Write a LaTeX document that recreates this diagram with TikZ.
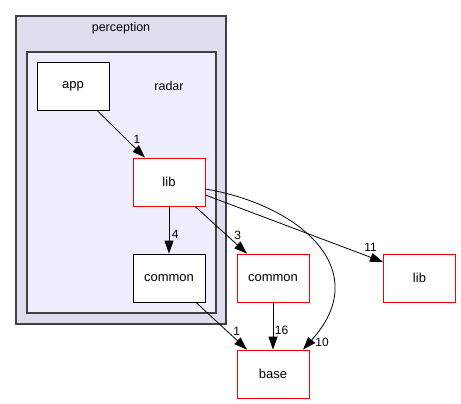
\documentclass[tikz,border=0pt]{standalone}
\usepackage{fontspec}
\setmainfont{Liberation Sans}
\usetikzlibrary{arrows.meta}
\definecolor{outerfill}{HTML}{DDDDEE}
\definecolor{innerfill}{HTML}{EEEEFF}
\definecolor{clusterline}{HTML}{404040}
\tikzset{
    dirbox/.style={draw=black, fill=white, line width=0.8pt, minimum width=72pt,
        minimum height=48pt, inner sep=0pt, font=\fontsize{13}{15}\selectfont},
    extbox/.style={dirbox, draw=red},
    dep/.style={-{Triangle[length=13pt,width=9pt]}, line width=0.8pt},
    count/.style={inner sep=1pt, font=\fontsize{12}{14}\selectfont}
}
\begin{document}
\begin{tikzpicture}[x=1pt,y=-1pt]
    \useasboundingbox (0,0) rectangle (461,404);
    % clusters
    \draw [fill=outerfill, draw=clusterline, line width=1.3pt] (16,16) rectangle (226,324);
    \node [font=\fontsize{12.5}{14}\selectfont] (perception) at (121,28) {perception};
    \draw [fill=innerfill, draw=clusterline, line width=1.3pt] (27,52) rectangle (216,313);
    \node [font=\fontsize{12.5}{14}\selectfont] (radar) at (169,86) {radar};

    % directories
    \node [dirbox] (app) at (73,86) {app};
    \node [extbox] (radlib) at (169,182) {lib};
    \node [dirbox] (radcommon) at (169,278) {common};
    \node [extbox] (common) at (273,278) {common};
    \node [extbox] (lib) at (419.5,278) {lib};
    \node [extbox] (base) at (273,374) {base};

    % dependencies
    \draw [dep] ([xshift=24pt]app.south) -- ([xshift=-24pt]radlib.north)
        node [count, pos=0.83, above=5pt] {1};
    \draw [dep] (radlib.south) -- (radcommon.north)
        node [count, pos=0.6, right=1.5pt] {4};
    \draw [dep] ([xshift=26pt]radlib.south) -- ([xshift=-26pt]common.north)
        node [count, pos=0.82, above=4pt] {3};
    \draw [dep] ([yshift=-13pt]radlib.east) -- ([yshift=16pt]lib.west)
        node [count, pos=0.93, above=4pt] {11};
    \draw [dep] ([yshift=-7pt]radlib.east) .. controls (300,205) and (375,270) .. ([xshift=30pt]base.north)
        node [count, pos=0.97, right=5pt] {10};
    \draw [dep] ([xshift=27pt]radcommon.south) -- ([xshift=-26pt]base.north)
        node [count, pos=0.8, above=3pt] {1};
    \draw [dep] (common.south) -- (base.north)
        node [count, pos=0.6, right=0.5pt] {16};
\end{tikzpicture}
\end{document}
